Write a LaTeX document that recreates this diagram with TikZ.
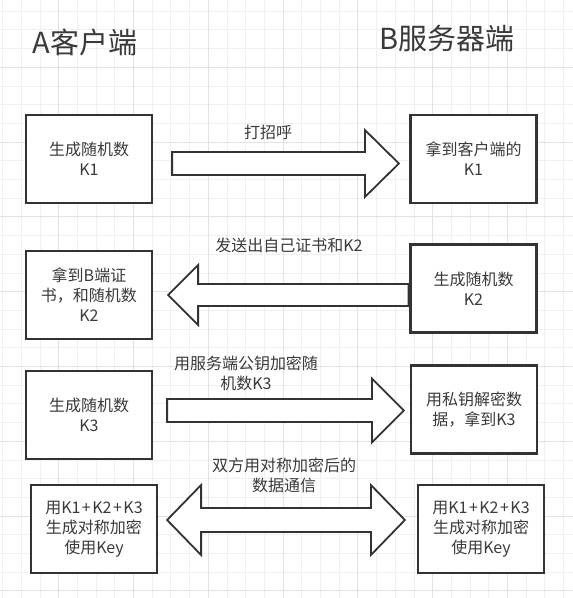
\documentclass[tikz,border=0pt]{standalone}
\usepackage{fontspec}
\setmainfont{Noto Sans CJK SC}
\usetikzlibrary{calc}

\definecolor{txt}{HTML}{3A3A3A}
\definecolor{edge}{HTML}{333333}
\definecolor{gminor}{HTML}{F0F0F0}
\definecolor{gmajor}{HTML}{E2E2E2}

% block arrow: tail, tip, body half width, head half width, head length
\newcommand{\blockarrow}[5]{%
  \path ($(#2)!#5!(#1)$) coordinate (hb);
  \draw[arrowbody] ($(#1)!#3!90:(#2)$) -- ($(hb)!#3!-90:(#1)$) -- ($(hb)!#4!-90:(#1)$)
    -- (#2) -- ($(hb)!#4!90:(#1)$) -- ($(hb)!#3!90:(#1)$) -- ($(#1)!#3!-90:(#2)$) -- cycle;
}
% double block arrow: left tip, right tip, body half width, head half width, head length
\newcommand{\doublearrow}[5]{%
  \path ($(#1)!#5!(#2)$) coordinate (hl) ($(#2)!#5!(#1)$) coordinate (hr);
  \draw[arrowbody] (#1) -- ($(hl)!#4!90:(#2)$) -- ($(hl)!#3!90:(#2)$) -- ($(hr)!#3!-90:(#1)$)
    -- ($(hr)!#4!-90:(#1)$) -- (#2) -- ($(hr)!#4!90:(#1)$) -- ($(hr)!#3!90:(#1)$)
    -- ($(hl)!#3!-90:(#2)$) -- ($(hl)!#4!-90:(#2)$) -- cycle;
}
\newcommand{\plus}{\hspace{1.5pt}+\hspace{1.5pt}}

\tikzset{
  party/.style={draw=edge, line width=2.2pt, fill=white, minimum width=126pt,
    minimum height=88pt, align=center, text=txt, font=\fontsize{16}{20}\selectfont},
  title/.style={text=txt, font=\fontsize{29}{34}\selectfont},
  msg/.style={text=txt, align=center, font=\fontsize{16}{20}\selectfont},
  arrowbody/.style={draw=edge, line width=1.8pt, fill=white, line join=miter},
}

\begin{document}
\begin{tikzpicture}[x=1pt, y=-1pt]
  % background and grid
  \fill[white] (0,0) rectangle (573,598);
  \useasboundingbox (0,0) rectangle (573,598);
  \foreach \k in {0,...,31} {
    \draw[gminor, line width=1pt] (2.6+18.7*\k, 0) -- (2.6+18.7*\k, 598);
    \draw[gminor, line width=1pt] (0, 11.2+18.7*\k) -- (573, 11.2+18.7*\k);
  }
  \foreach \k in {3,7,...,31} {
    \draw[gmajor, line width=1pt] (2.6+18.7*\k, 0) -- (2.6+18.7*\k, 598);
    \draw[gmajor, line width=1pt] (0, 11.2+18.7*\k) -- (573, 11.2+18.7*\k);
  }

  % titles
  \node[title] (clientTitle) at (85, 42) {A客户端};
  \node[title] (serverTitle) at (447, 38) {B服务器端};

  % --- STEP 1 ---
  \node[party] (a1) at (89, 159) {生成随机数\\K1};
  \node[party] (b1) at (473.5, 159) {拿到客户端的\\K1};

  % --- STEP 2 ---
  \node[party] (a2) at (89, 295) {拿到B端证\\书，和随机数\\K2};
  \node[party] (b2) at (473.5, 288.5) {生成随机数\\K2};

  % --- STEP 3 ---
  \node[party] (a3) at (89, 415) {生成随机数\\K3};
  \node[party] (b3) at (474, 409.5) {用私钥解密数\\据，拿到K3};

  % --- STEP 4 ---
  \node[party] (a4) at (94, 529) {用K1\plus K2\plus K3\\生成对称加密\\使用Key};
  \node[party] (b4) at (481, 529) {用K1\plus K2\plus K3\\生成对称加密\\使用Key};

  % arrow ends
  \coordinate (s1) at ($(a1.east)+(19,4.5)$);
  \coordinate (e1) at ($(b1.west)+(-10.5,4.5)$);
  \coordinate (s2) at ($(b2.west)+(-1,6.5)$);
  \coordinate (e2) at ($(a2.east)+(15,0)$);
  \coordinate (s3) at ($(a3.east)+(14,-4.5)$);
  \coordinate (e3) at ($(b3.west)+(-6,1)$);
  \coordinate (s4) at ($(a4.east)+(9,-9)$);
  \coordinate (e4) at ($(b4.west)+(-12,-9)$);

  % block arrows
  \blockarrow{s1}{e1}{11.5pt}{33.5pt}{34pt}
  \blockarrow{s2}{e2}{11pt}{30pt}{30pt}
  \blockarrow{s3}{e3}{11.5pt}{32pt}{32pt}
  \doublearrow{s4}{e4}{12pt}{35pt}{34pt}

  % messages
  \node[msg] (m1) at (268, 132) {打招呼};
  \node[msg] (m2) at (289, 245) {发送出自己证书和K2};
  \node[msg] (m3) at (246, 373) {用服务端公钥加密随\\机数K3};
  \node[msg] (m4) at (284, 475) {双方用对称加密后的\\数据通信};
\end{tikzpicture}
\end{document}
